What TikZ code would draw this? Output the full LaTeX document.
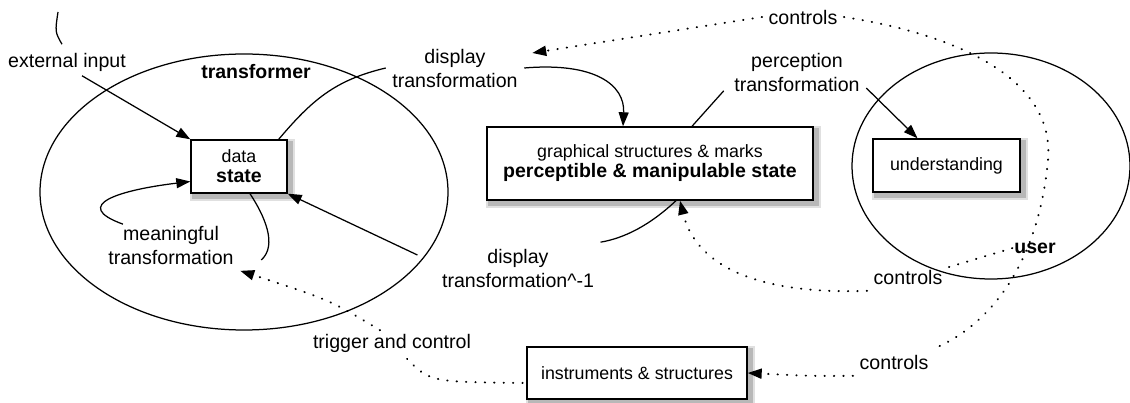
\documentclass[tikz,border=0pt]{standalone}
\usepackage{fontspec}
\setmainfont{Liberation Sans}
\usetikzlibrary{arrows.meta,calc,positioning,shapes.geometric}
\pgfdeclarelayer{shadowlayer}
\pgfsetlayers{shadowlayer,main}

\begin{document}
\begin{tikzpicture}[x=1pt,y=-1pt,>={Triangle[length=14pt,width=10pt]},
  every path/.style={line width=1.25pt},
  lab/.style={font=\fontsize{19.6}{24}\selectfont,align=center,inner sep=6pt},
  boldlab/.style={font=\fontsize{19.5}{24}\selectfont\bfseries,inner sep=1pt},
  statebox/.style={draw,fill=white,line width=1.4pt,align=center,inner sep=2pt,
    font=\fontsize{17.8}{20}\selectfont},
  ctrl/.style={line width=2pt,line cap=round,dash pattern=on 0.4pt off 9pt}]
  \useasboundingbox (0,0) rectangle (1130,403);
  % the two regions
  \node[draw,ellipse,minimum width=408pt,minimum height=276pt,inner sep=0pt] (Tell) at (244,192) {};
  \node[draw,ellipse,minimum width=278pt,minimum height=226pt,inner sep=0pt] (Uell) at (991,166) {};
  \node[boldlab] (Tlab) at (256,72) {transformer};
  \node[boldlab] (Ulab) at (1035,248) {user};
  % states
  \node[statebox,minimum width=96pt,minimum height=53pt] (Data) at (239,166.5)
       {data\\{\fontsize{19.5}{20}\selectfont\bfseries state}};
  \node[statebox,minimum width=326pt,minimum height=73pt] (Perc) at (650,163.5)
       {graphical structures \& marks\\{\fontsize{19.5}{22}\selectfont\bfseries perceptible \& manipulable state}};
  \node[statebox,minimum width=147pt,minimum height=53pt] (Und) at (946.5,165.5) {understanding};
  \node[statebox,minimum width=220pt,minimum height=52pt] (Inst) at (637,373) {instruments \& structures};
  % labels
  \node[lab] (Elab) at (67,62) {external input};
  \node[lab] (DTlab) at (455,68) {display\\transformation};
  \node[lab] (PTlab) at (797,72) {perception\\transformation};
  \node[lab] (MTlab) at (171,245) {meaningful\\transformation};
  \node[lab] (DIlab) at (518,268) {display\\transformation\textasciicircum-1};
  \node[lab] (TClab) at (392,343) {trigger and control};
  \node[lab] (Ctop) at (803,17) {controls};
  \node[lab] (Cmid) at (908,277) {controls};
  \node[lab] (Cbot) at (894,362) {controls};
  \coordinate (Ein) at (58,12);
  % external input
  \draw (Ein) .. controls (55,32) .. ($(Elab.north)+(-5,-2)$);
  \draw[->] ($(Elab.south)+(15,-2)$) -- (Data.north west);
  % display transformation
  \draw ([xshift=-9pt]Data.north east) .. controls (312,100) and (335,80) .. (DTlab.west);
  \draw[->] (DTlab.east) .. controls (595,62) and (625,85) .. ($(Perc.north)+(-27,0)$);
  % perception transformation
  \draw ($(Perc.north)+(42,0)$) -- ($(PTlab.south west)+(-4,-7)$);
  \draw[->] ($(PTlab.east)+(0,16)$) -- ($(Und.north)+(-29,0)$);
  % meaningful transformation
  \draw ([xshift=11pt]Data.south) .. controls (264,215) and (278,245) .. ($(MTlab.east)+(21,15)$);
  \draw[->] ($(MTlab.north)+(-48,5)$) .. controls (70,205) and (120,190) .. ($(Data.west)+(0,15)$);
  % display transformation^-1
  \draw ($(Perc.south)+(26,0)$) .. controls (650,225) and (625,238) .. (DIlab.north east);
  \draw[->] ($(DIlab.west)+(-18,-13)$) -- (Data.south east);
  % controls from the user
  \draw[ctrl,->] (Ctop.west) -- ($(DTlab.east)+(8,-15)$);
  \draw[ctrl] (Ctop.east) .. controls (960,35) and (1055,80) .. (1048,160)
       .. controls (1040,250) and (1000,320) .. (Cbot.north east);
  \draw[ctrl,->] (Cbot.south west) .. controls (810,376) .. (Inst.east);
  \draw[ctrl] ($(Cmid.east)+(0,-10)$) -- (Ulab.west);
  \draw[ctrl,->] (Cmid.south west) .. controls (750,295) and (695,262) .. ($(Perc.south)+(30,0)$);
  % trigger and control
  \draw[ctrl,->] ($(TClab.north)+(-12,3)$) .. controls (330,300) .. (MTlab.south east);
  \draw[ctrl] ($(TClab.south)+(15,0)$) .. controls (430,382) .. ($(Inst.west)+(0,10)$);
  % soft shadows under the boxes
  \begin{pgfonlayer}{shadowlayer}
    \foreach \b in {Data,Perc,Und,Inst} {
      \fill[black!12] ($(\b.south west)+(0,7)$) rectangle ($(\b.north east)+(7,0)$);
      \fill[black!28] ($(\b.south west)+(2,5)$) rectangle ($(\b.north east)+(5,2)$);
    }
  \end{pgfonlayer}
\end{tikzpicture}
\end{document}
